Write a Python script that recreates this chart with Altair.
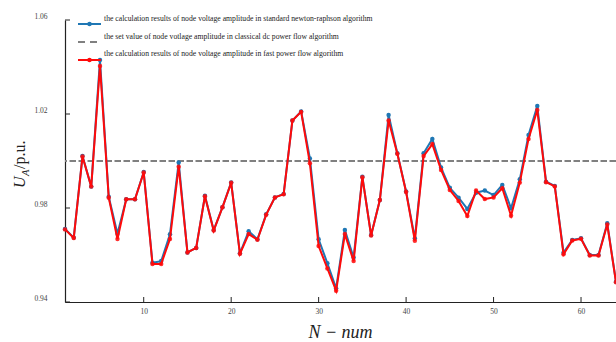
import altair as alt
import pandas as pd

node = list(range(1, 65))
nr_values = [0.9711, 0.9674, 1.0021, 0.9891, 1.0430, 0.9848, 0.9690, 0.9837, 0.9837, 0.9953,
             0.9567, 0.9574, 0.9688, 0.9994, 0.9611, 0.9630, 0.9852, 0.9706, 0.9803, 0.9909,
             0.9607, 0.9701, 0.9667, 0.9773, 0.9845, 0.9860, 1.0172, 1.0211, 1.0011, 0.9667,
             0.9565, 0.9458, 0.9706, 0.9589, 0.9933, 0.9685, 0.9834, 1.0196, 1.0033, 0.9870,
             0.9671, 1.0033, 1.0094, 0.9972, 0.9886, 0.9844, 0.9796, 0.9865, 0.9874, 0.9855,
             0.9898, 0.9799, 0.9922, 1.0111, 1.0234, 0.9912, 0.9894, 0.9610, 0.9664, 0.9671,
             0.9600, 0.9600, 0.9735, 0.9486]
fast_values = [0.9709, 0.9672, 1.0019, 0.9891, 1.0404, 0.9844, 0.9668, 0.9837, 0.9837, 0.9951,
               0.9562, 0.9562, 0.9668, 0.9976, 0.9611, 0.9630, 0.9850, 0.9704, 0.9803, 0.9907,
               0.9605, 0.9689, 0.9665, 0.9771, 0.9845, 0.9858, 1.0172, 1.0209, 0.9990, 0.9638,
               0.9543, 0.9448, 0.9689, 0.9574, 0.9931, 0.9683, 0.9834, 1.0172, 1.0031, 0.9868,
               0.9661, 1.0021, 1.0072, 0.9962, 0.9877, 0.9830, 0.9766, 0.9874, 0.9838, 0.9845,
               0.9884, 0.9767, 0.9908, 1.0094, 1.0217, 0.9910, 0.9892, 0.9603, 0.9662, 0.9669,
               0.9598, 0.9598, 0.9730, 0.9484]
set_value = [1.0]
x_ticks = [10, 20, 30, 40, 50, 60]
y_ticks = [0.94, 0.98, 1.02, 1.06]
legend_labels = [
    "the calculation results of node voltage amplitude in standard newton-raphson algorithm",
    "the set value of node votlage amplitude in classical dc power flow algorithm",
    "the calculation results of node voltage amplitude in fast power flow algorithm",
]
x_title = ["N − num"]
y_title_parts = ["U", "A", "/p.u."]

W, H = 551, 282
BLUE = "#1f77b4"
RED = "#ff0a0a"
GREY = "#808080"
AX = "#222222"
SERIF = "Liberation Serif"

df = pd.DataFrame({"n": node, "nr": nr_values, "fast": fast_values})
xscale = alt.Scale(domain=[1, 64], nice=False, zero=False)
yscale = alt.Scale(domain=[0.94, 1.06], nice=False, zero=False)

x_axis = alt.Axis(values=x_ticks, ticks=False, grid=False, labelFont=SERIF, labelFontSize=7.5,
                  labelColor="#444444", labelPadding=5, domainColor=AX, domainWidth=1.2,
                  title=None, format="d")
y_axis = alt.Axis(values=y_ticks, ticks=False, grid=False, labelFont=SERIF, labelFontSize=7.5,
                  labelColor="#444444", labelPadding=18, labelOffset=-4, domainColor=AX,
                  domainWidth=1.2, title=None, format=".2f")

blue_line = alt.Chart(df).mark_line(
    color=BLUE, strokeWidth=2,
    point=alt.OverlayMarkDef(filled=True, size=20, color=BLUE)).encode(
    x=alt.X("n:Q", scale=xscale, axis=x_axis),
    y=alt.Y("nr:Q", scale=yscale, axis=y_axis))

setline = alt.Chart(pd.DataFrame({"v": set_value})).mark_rule(
    color=GREY, strokeWidth=2, strokeDash=[6.5, 2.5]).encode(
    y=alt.Y("v:Q", scale=yscale, axis=y_axis))

red_line = alt.Chart(df).mark_line(
    color=RED, strokeWidth=2,
    point=alt.OverlayMarkDef(filled=True, size=20, color=RED, opacity=0.85)).encode(
    x=alt.X("n:Q", scale=xscale, axis=x_axis),
    y=alt.Y("fast:Q", scale=yscale, axis=y_axis))

xt = alt.Chart(pd.DataFrame({"t": x_ticks})).mark_rule(color=AX, strokeWidth=1).encode(
    x=alt.X("t:Q", scale=xscale, axis=x_axis), y=alt.value(H - 5), y2=alt.value(H))
yt = alt.Chart(pd.DataFrame({"t": y_ticks})).mark_rule(color=AX, strokeWidth=1).encode(
    y=alt.Y("t:Q", scale=yscale, axis=y_axis), x=alt.value(0), x2=alt.value(5))

one = pd.DataFrame({"k": [0]})
leg = []
leg.append(alt.Chart(one).mark_rule(color=BLUE, strokeWidth=2).encode(
    x=alt.value(13), x2=alt.value(36), y=alt.value(4)))
leg.append(alt.Chart(one).mark_point(filled=True, size=20, color=BLUE, opacity=1).encode(
    x=alt.value(24.5), y=alt.value(4)))
leg.append(alt.Chart(one).mark_rule(color=GREY, strokeWidth=2, strokeDash=[7, 5]).encode(
    x=alt.value(13), x2=alt.value(36), y=alt.value(22)))
leg.append(alt.Chart(one).mark_rule(color=RED, strokeWidth=2).encode(
    x=alt.value(13), x2=alt.value(36), y=alt.value(40)))
leg.append(alt.Chart(one).mark_point(filled=True, size=20, color=RED, opacity=1).encode(
    x=alt.value(24.5), y=alt.value(40)))
for lab, yy in zip(legend_labels, [-1, 17, 34]):
    leg.append(alt.Chart(pd.DataFrame({"t": [lab]})).mark_text(
        align="left", baseline="middle", font=SERIF, fontSize=7.7, color="#222222").encode(
        text="t:N", x=alt.value(39), y=alt.value(yy)))

xtitle = alt.Chart(pd.DataFrame({"t": x_title})).mark_text(
    align="center", baseline="middle", font=SERIF, fontStyle="italic", fontSize=18,
    color="#222222").encode(text="t:N", x=alt.value(W / 2), y=alt.value(313))

yt_parts = []
for txt, xx, yy, fs, st in zip(y_title_parts, [-40, -36, -40], [168, 156, 149],
                               [16, 10.5, 16], ["italic", "italic", "normal"]):
    yt_parts.append(alt.Chart(pd.DataFrame({"t": [txt]})).mark_text(
        align="left", baseline="alphabetic", angle=270, font=SERIF, fontStyle=st,
        fontSize=fs, color="#222222").encode(text="t:N", x=alt.value(xx), y=alt.value(yy)))

chart = alt.layer(setline, blue_line, red_line, xt, yt, *leg, xtitle, *yt_parts).properties(
    width=W, height=H,
    padding={"left": 65, "top": 20, "right": 0, "bottom": 40},
    autosize=alt.AutoSizeParams(type="none"),
    background="white",
).configure_view(stroke=None)

chart.save("out.html", embed_options={"renderer": "svg", "actions": False})
